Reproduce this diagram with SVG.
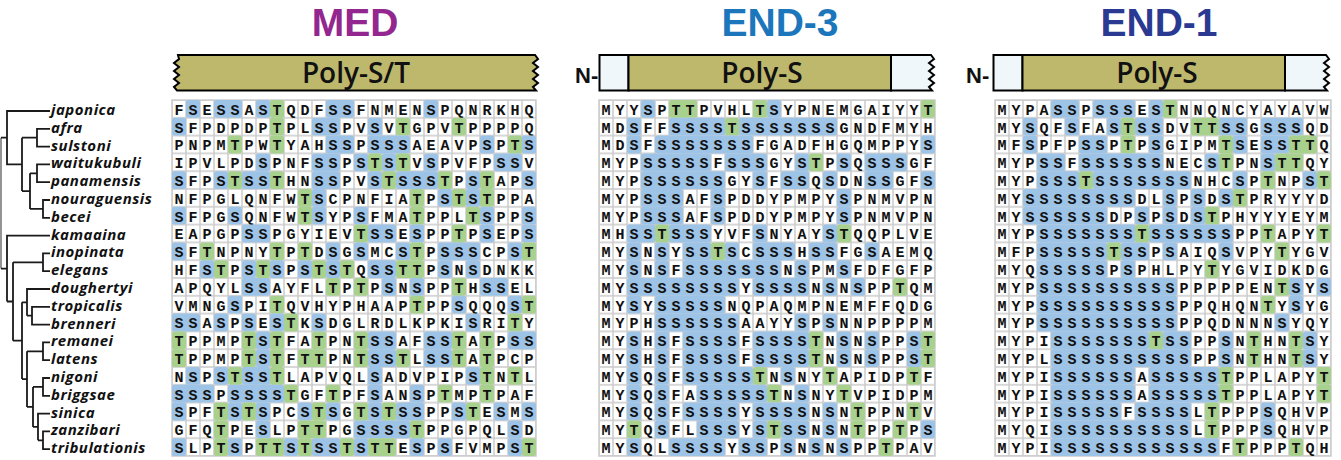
<svg xmlns="http://www.w3.org/2000/svg" width="1341" height="460" viewBox="0 0 1341 460">
<style>
.title{font-family:"Liberation Sans",Arial,sans-serif;font-weight:bold;font-size:39px;text-anchor:middle}
.dom{font-family:"Open Sans","Liberation Sans",sans-serif;font-weight:600;font-size:28px;text-anchor:middle;fill:#111}
.nt{font-family:"Liberation Sans",sans-serif;font-weight:bold;font-size:22px;fill:#111}
.bar{stroke:#000;stroke-width:2}
.ol{fill:#BEB86D}
.lt{fill:#EFF7FB}
.sp{font-family:"Open Sans","Liberation Sans",sans-serif;font-style:italic;font-weight:bold;font-size:15px;letter-spacing:0.5px;fill:#111}
.seq{font-family:"Liberation Mono",monospace;font-weight:bold;font-size:15px;letter-spacing:5px;fill:#111}
rect.b,rect.g{height:17.8px;rx:2.5px;ry:2.5px}
.b{fill:#9DC3E6}
.g{fill:#A9D18E}
.frame{fill:none;stroke:#CBCBCB;stroke-width:1.5}
</style>
<defs>
<pattern id="cell" width="14" height="17.8" patternUnits="userSpaceOnUse">
<rect width="14" height="17.8" fill="#CBCBCB"/>
<rect x="0.75" y="0.75" width="12.5" height="16.3" fill="#fff"/>
</pattern>
</defs>
<rect width="1341" height="460" fill="#fff"/>

<g id="titles">
<text class="title" x="355" y="36" fill="#93268F">MED</text>
<text class="title" x="780" y="36" fill="#1C76BC">END-3</text>
<text class="title" x="1159" y="36" fill="#2A3A92">END-1</text>
</g>

<g id="bar-med">
<path class="bar ol" d="M178,55 H535 L538,59 L533,63 L538,67 L533,71 L538,75 L533,79 L538,83 L533,87 L536,90.5 H177 L174,87 L179,83 L174,79 L179,75 L174,71 L179,67 L174,63 L179,59 Z"/>
<text class="dom" x="356" y="83">Poly-S/T</text>
</g>
<g id="bar-end3">
<text class="nt" x="575" y="83">N-</text>
<rect class="bar lt" x="599.5" y="55" width="29" height="35.5"/>
<rect class="bar ol" x="628.5" y="55" width="262.5" height="35.5"/>
<path class="bar lt" d="M891,55 H931 L934,59 L929,63 L934,67 L929,71 L934,75 L929,79 L934,83 L929,87 L932,90.5 H891 Z"/>
<text class="dom" x="762" y="83">Poly-S</text>
</g>
<g id="bar-end1">
<text class="nt" x="966" y="83">N-</text>
<rect class="bar lt" x="993.5" y="55" width="29" height="35.5"/>
<rect class="bar ol" x="1022.5" y="55" width="262.5" height="35.5"/>
<path class="bar lt" d="M1285,55 H1326 L1329,59 L1324,63 L1329,67 L1324,71 L1329,75 L1324,79 L1329,83 L1324,87 L1327,90.5 H1285 Z"/>
<text class="dom" x="1157" y="83">Poly-S</text>
</g>

<g id="tree-connectors" fill="none" stroke="#1a1a1a" stroke-width="1.8">
<path stroke="#888" d="M1,137.7V268.55"/>
<path d="M1,137.7H7 M1,268.55H7
M50,111H7V164.4H22 M22,137.7V191.1 M22,137.7H37 M50,128.8H37V146.6H50
M22,191.1H30 M30,173.3V208.9 M30,173.3H37 M50,164.4H37V182.2H50 M30,208.9H43 M50,200H43V217.8H50
M50,235.6H7V301.5 M7,301.5H13 M13,262.3V340.7 M13,262.3H43 M50,253.4H43V271.2H50
M13,340.7H22 M22,302.35V379.1 M22,302.35H27 M50,289H27V315.7 M27,315.7H32 M50,306.8H32V324.6H50
M22,379.1H27 M27,351.3V406.9 M27,351.3H43 M50,342.4H43V360.2H50
M27,406.9H33 M33,386.9V426.95 M33,386.9H43 M50,378H43V395.8H50
M33,426.95H38 M50,413.6H38V440.3 M38,440.3H43 M50,431.4H43V449.2H50"/>
</g>

<g id="species">
<text class="sp" x="51" y="115">japonica</text>
<text class="sp" x="51" y="132.8">afra</text>
<text class="sp" x="51" y="150.6">sulstoni</text>
<text class="sp" x="51" y="168.4">waitukubuli</text>
<text class="sp" x="51" y="186.2">panamensis</text>
<text class="sp" x="51" y="204">nouraguensis</text>
<text class="sp" x="51" y="221.8">becei</text>
<text class="sp" x="51" y="239.6">kamaaina</text>
<text class="sp" x="51" y="257.4">inopinata</text>
<text class="sp" x="51" y="275.2">elegans</text>
<text class="sp" x="51" y="293">doughertyi</text>
<text class="sp" x="51" y="310.8">tropicalis</text>
<text class="sp" x="51" y="328.6">brenneri</text>
<text class="sp" x="51" y="346.4">remanei</text>
<text class="sp" x="51" y="364.2">latens</text>
<text class="sp" x="51" y="382">nigoni</text>
<text class="sp" x="51" y="399.8">briggsae</text>
<text class="sp" x="51" y="417.6">sinica</text>
<text class="sp" x="51" y="435.4">zanzibari</text>
<text class="sp" x="51" y="453.2">tribulationis</text>
</g>

<g id="panel-med" transform="translate(172,100)">
<rect width="364" height="356" fill="url(#cell)"/>
<rect class="frame" width="364" height="356"/>
<g><rect class="b" x="14" width="14"/><rect class="b" x="42" width="28"/><rect class="b" x="84" width="14"/><rect class="b" x="154" width="28"/><rect class="b" x="252" width="14"/><rect class="g" x="98" width="14"/><text class="seq" x="2.5" y="14.8">FSESSASTQDFSSFNMENSPQNRKHQ</text></g>
<g transform="translate(0,17.8)"><rect class="b" x="0" width="14"/><rect class="b" x="140" width="28"/><rect class="b" x="196" width="14"/><rect class="g" x="98" width="14"/><rect class="g" x="224" width="14"/><rect class="g" x="280" width="14"/><text class="seq" x="2.5" y="14.8">SFPDPDPTPLSSPVSVTGPVTPPPPQ</text></g>
<g transform="translate(0,35.6)"><rect class="b" x="154" width="28"/><rect class="b" x="196" width="42"/><rect class="b" x="308" width="14"/><rect class="b" x="350" width="14"/><rect class="g" x="56" width="14"/><rect class="g" x="98" width="14"/><rect class="g" x="336" width="14"/><text class="seq" x="2.5" y="14.8">PNPMTPWTYAHSSPSSSAEAVPSPTS</text></g>
<g transform="translate(0,53.4)"><rect class="b" x="84" width="14"/><rect class="b" x="140" width="28"/><rect class="b" x="182" width="14"/><rect class="b" x="210" width="14"/><rect class="b" x="252" width="14"/><rect class="b" x="322" width="28"/><rect class="g" x="196" width="14"/><rect class="g" x="224" width="14"/><text class="seq" x="2.5" y="14.8">IPVLPDSPNFSSPSTSTVSPVFPSSV</text></g>
<g transform="translate(0,71.2)"><rect class="b" x="0" width="14"/><rect class="b" x="42" width="14"/><rect class="b" x="70" width="28"/><rect class="b" x="140" width="28"/><rect class="b" x="196" width="14"/><rect class="b" x="224" width="42"/><rect class="b" x="294" width="14"/><rect class="b" x="350" width="14"/><rect class="g" x="56" width="14"/><rect class="g" x="98" width="14"/><rect class="g" x="210" width="14"/><rect class="g" x="266" width="14"/><rect class="g" x="308" width="14"/><text class="seq" x="2.5" y="14.8">SFPSTSSTHNSSPVSTSSSTPSTAPS</text></g>
<g transform="translate(0,89)"><rect class="b" x="140" width="14"/><rect class="b" x="266" width="14"/><rect class="b" x="294" width="14"/><rect class="g" x="126" width="14"/><rect class="g" x="238" width="14"/><rect class="g" x="280" width="14"/><rect class="g" x="308" width="14"/><text class="seq" x="2.5" y="14.8">NFPGLQNFWTSCPNFIATPSTSTPPA</text></g>
<g transform="translate(0,106.8)"><rect class="b" x="0" width="14"/><rect class="b" x="56" width="14"/><rect class="b" x="140" width="14"/><rect class="b" x="182" width="14"/><rect class="b" x="308" width="14"/><rect class="b" x="350" width="14"/><rect class="g" x="126" width="14"/><rect class="g" x="238" width="14"/><rect class="g" x="294" width="14"/><text class="seq" x="2.5" y="14.8">SFPGSQNFWTSYPSFMATPPLTSPPS</text></g>
<g transform="translate(0,124.6)"><rect class="b" x="70" width="28"/><rect class="b" x="196" width="28"/><rect class="b" x="238" width="14"/><rect class="b" x="308" width="14"/><rect class="b" x="350" width="14"/><rect class="g" x="182" width="14"/><rect class="g" x="280" width="14"/><text class="seq" x="2.5" y="14.8">EAPGPSSPGYIEVTSSESPPTPSEPS</text></g>
<g transform="translate(0,142.4)"><rect class="b" x="0" width="14"/><rect class="b" x="154" width="14"/><rect class="b" x="182" width="14"/><rect class="b" x="224" width="14"/><rect class="b" x="266" width="42"/><rect class="b" x="336" width="14"/><rect class="g" x="28" width="14"/><rect class="g" x="98" width="14"/><rect class="g" x="126" width="14"/><rect class="g" x="238" width="14"/><rect class="g" x="350" width="14"/><text class="seq" x="2.5" y="14.8">SFTNPNYTPTDSGSMCSTPSSSCPST</text></g>
<g transform="translate(0,160.2)"><rect class="b" x="28" width="14"/><rect class="b" x="70" width="14"/><rect class="b" x="98" width="14"/><rect class="b" x="126" width="14"/><rect class="b" x="154" width="14"/><rect class="b" x="196" width="28"/><rect class="b" x="266" width="14"/><rect class="b" x="294" width="14"/><rect class="g" x="42" width="14"/><rect class="g" x="84" width="14"/><rect class="g" x="140" width="14"/><rect class="g" x="168" width="14"/><rect class="g" x="224" width="28"/><text class="seq" x="2.5" y="14.8">HFSTPSTSPSTSTQSSTTPSNSDNKK</text></g>
<g transform="translate(0,178)"><rect class="b" x="70" width="28"/><rect class="b" x="210" width="14"/><rect class="b" x="238" width="14"/><rect class="b" x="308" width="28"/><rect class="g" x="154" width="14"/><rect class="g" x="182" width="14"/><rect class="g" x="280" width="14"/><text class="seq" x="2.5" y="14.8">APQYLSSAYFLTPTPSNSPPTHSSEL</text></g>
<g transform="translate(0,195.8)"><rect class="b" x="56" width="14"/><rect class="b" x="280" width="14"/><rect class="b" x="336" width="14"/><rect class="g" x="98" width="14"/><rect class="g" x="238" width="14"/><rect class="g" x="350" width="14"/><text class="seq" x="2.5" y="14.8">VMNGSPITQVHYPHAAPTPPSQQQST</text></g>
<g transform="translate(0,213.6)"><rect class="b" x="0" width="28"/><rect class="b" x="42" width="14"/><rect class="b" x="70" width="14"/><rect class="b" x="98" width="14"/><rect class="b" x="140" width="14"/><rect class="b" x="294" width="14"/><rect class="g" x="112" width="14"/><rect class="g" x="336" width="14"/><text class="seq" x="2.5" y="14.8">SSASPSESTKSDGLRDLKPKISRITY</text></g>
<g transform="translate(0,231.4)"><rect class="b" x="84" width="14"/><rect class="b" x="196" width="28"/><rect class="b" x="252" width="28"/><rect class="b" x="336" width="28"/><rect class="g" x="0" width="14"/><rect class="g" x="70" width="14"/><rect class="g" x="98" width="14"/><rect class="g" x="140" width="14"/><rect class="g" x="182" width="14"/><rect class="g" x="280" width="14"/><rect class="g" x="308" width="14"/><text class="seq" x="2.5" y="14.8">TPPMPTSTFATPNTSSAFSSTATPSS</text></g>
<g transform="translate(0,249.2)"><rect class="b" x="84" width="14"/><rect class="b" x="196" width="28"/><rect class="b" x="252" width="28"/><rect class="g" x="0" width="14"/><rect class="g" x="70" width="14"/><rect class="g" x="98" width="14"/><rect class="g" x="126" width="28"/><rect class="g" x="182" width="14"/><rect class="g" x="224" width="14"/><rect class="g" x="280" width="14"/><rect class="g" x="308" width="14"/><text class="seq" x="2.5" y="14.8">TPPMPTSTFTTPNTSSTLSSTATPCP</text></g>
<g transform="translate(0,267)"><rect class="b" x="14" width="14"/><rect class="b" x="42" width="14"/><rect class="b" x="70" width="28"/><rect class="b" x="196" width="14"/><rect class="b" x="294" width="14"/><rect class="g" x="56" width="14"/><rect class="g" x="98" width="14"/><rect class="g" x="308" width="14"/><rect class="g" x="336" width="14"/><text class="seq" x="2.5" y="14.8">NSPSTSSTLAPVQLSADVPIPSTNTL</text></g>
<g transform="translate(0,284.8)"><rect class="b" x="0" width="42"/><rect class="b" x="56" width="56"/><rect class="b" x="196" width="14"/><rect class="b" x="238" width="14"/><rect class="g" x="112" width="14"/><rect class="g" x="154" width="14"/><rect class="g" x="266" width="14"/><rect class="g" x="308" width="14"/><text class="seq" x="2.5" y="14.8">SSSPSSSSTGFTPFSANSPTMPTPAF</text></g>
<g transform="translate(0,302.6)"><rect class="b" x="0" width="14"/><rect class="b" x="56" width="14"/><rect class="b" x="84" width="14"/><rect class="b" x="126" width="14"/><rect class="b" x="154" width="14"/><rect class="b" x="196" width="14"/><rect class="b" x="224" width="28"/><rect class="b" x="280" width="14"/><rect class="b" x="322" width="14"/><rect class="b" x="350" width="14"/><rect class="g" x="42" width="14"/><rect class="g" x="70" width="14"/><rect class="g" x="140" width="14"/><rect class="g" x="182" width="14"/><rect class="g" x="210" width="14"/><rect class="g" x="294" width="14"/><text class="seq" x="2.5" y="14.8">SPFTSTSPCSTSGTSTSSPPSTESMS</text></g>
<g transform="translate(0,320.4)"><rect class="b" x="84" width="14"/><rect class="b" x="182" width="56"/><rect class="b" x="336" width="14"/><rect class="g" x="42" width="14"/><rect class="g" x="126" width="28"/><rect class="g" x="238" width="14"/><text class="seq" x="2.5" y="14.8">GFQTPESLPTTPGSSSSTPPGPQLSD</text></g>
<g transform="translate(0,338.2)"><rect class="b" x="0" width="14"/><rect class="b" x="56" width="14"/><rect class="b" x="112" width="14"/><rect class="b" x="140" width="28"/><rect class="b" x="182" width="14"/><rect class="b" x="238" width="14"/><rect class="b" x="266" width="14"/><rect class="b" x="336" width="14"/><rect class="g" x="42" width="14"/><rect class="g" x="84" width="28"/><rect class="g" x="126" width="14"/><rect class="g" x="168" width="14"/><rect class="g" x="196" width="28"/><rect class="g" x="350" width="14"/><text class="seq" x="2.5" y="14.8">SLPTSPTTSTSSTSTTESPSFVMPST</text></g>
</g>

<g id="panel-end3" transform="translate(599,100)">
<rect width="336" height="356" fill="url(#cell)"/>
<rect class="frame" width="336" height="356"/>
<g><rect class="b" x="42" width="14"/><rect class="b" x="168" width="14"/><rect class="g" x="70" width="28"/><rect class="g" x="154" width="14"/><rect class="g" x="322" width="14"/><text class="seq" x="2.5" y="14.8">MYYSPTTPVHLTSYPNEMGAIYYT</text></g>
<g transform="translate(0,17.8)"><rect class="b" x="28" width="14"/><rect class="b" x="70" width="56"/><rect class="b" x="140" width="98"/><rect class="g" x="126" width="14"/><text class="seq" x="2.5" y="14.8">MDSFFSSSSTSSSSSSSGNDFMYH</text></g>
<g transform="translate(0,35.6)"><rect class="b" x="28" width="14"/><rect class="b" x="56" width="98"/><rect class="b" x="322" width="14"/><text class="seq" x="2.5" y="14.8">MDSFSSSSSSSFGADFHGQMPPYS</text></g>
<g transform="translate(0,53.4)"><rect class="b" x="42" width="70"/><rect class="b" x="126" width="42"/><rect class="b" x="196" width="14"/><rect class="b" x="238" width="14"/><rect class="b" x="266" width="42"/><rect class="g" x="210" width="14"/><text class="seq" x="2.5" y="14.8">MYPSSSSSFSSSGYSTPSQSSSGF</text></g>
<g transform="translate(0,71.2)"><rect class="b" x="42" width="84"/><rect class="b" x="154" width="14"/><rect class="b" x="182" width="28"/><rect class="b" x="224" width="14"/><rect class="b" x="266" width="28"/><rect class="b" x="322" width="14"/><text class="seq" x="2.5" y="14.8">MYPSSSSSSGYSFSSQSDNSSGFS</text></g>
<g transform="translate(0,89)"><rect class="b" x="42" width="42"/><rect class="b" x="112" width="14"/><rect class="b" x="238" width="14"/><text class="seq" x="2.5" y="14.8">MYPSSSAFSPDDYPMPYSPNMVPN</text></g>
<g transform="translate(0,106.8)"><rect class="b" x="42" width="42"/><rect class="b" x="112" width="14"/><rect class="b" x="238" width="14"/><text class="seq" x="2.5" y="14.8">MYPSSSAFSPDDYPMPYSPNMVPN</text></g>
<g transform="translate(0,124.6)"><rect class="b" x="28" width="28"/><rect class="b" x="70" width="42"/><rect class="b" x="154" width="14"/><rect class="b" x="224" width="14"/><rect class="g" x="56" width="14"/><rect class="g" x="238" width="14"/><text class="seq" x="2.5" y="14.8">MHSSTSSSYVFSNYAYSTQQPLVE</text></g>
<g transform="translate(0,142.4)"><rect class="b" x="28" width="14"/><rect class="b" x="56" width="14"/><rect class="b" x="84" width="28"/><rect class="b" x="126" width="14"/><rect class="b" x="154" width="42"/><rect class="b" x="210" width="28"/><rect class="b" x="266" width="14"/><rect class="g" x="112" width="14"/><text class="seq" x="2.5" y="14.8">MYSNSYSSTSCSSSHSSFGSAEMQ</text></g>
<g transform="translate(0,160.2)"><rect class="b" x="28" width="14"/><rect class="b" x="56" width="14"/><rect class="b" x="84" width="98"/><rect class="b" x="196" width="14"/><rect class="b" x="238" width="14"/><text class="seq" x="2.5" y="14.8">MYSNSFSSSSSSSNSPMSFDFGFP</text></g>
<g transform="translate(0,178)"><rect class="b" x="28" width="112"/><rect class="b" x="154" width="56"/><rect class="b" x="224" width="14"/><rect class="b" x="252" width="14"/><rect class="g" x="294" width="14"/><text class="seq" x="2.5" y="14.8">MYSSSSSSSSYSSSSNSNSPPTQM</text></g>
<g transform="translate(0,195.8)"><rect class="b" x="28" width="14"/><rect class="b" x="56" width="70"/><text class="seq" x="2.5" y="14.8">MYSYSSSSSNQPAQMPNEMFFQDG</text></g>
<g transform="translate(0,213.6)"><rect class="b" x="56" width="84"/><rect class="b" x="196" width="14"/><rect class="b" x="224" width="14"/><text class="seq" x="2.5" y="14.8">MYPHSSSSSSAAYYSPSNNPPPPM</text></g>
<g transform="translate(0,231.4)"><rect class="b" x="28" width="14"/><rect class="b" x="56" width="14"/><rect class="b" x="84" width="56"/><rect class="b" x="154" width="56"/><rect class="b" x="238" width="14"/><rect class="b" x="266" width="14"/><rect class="b" x="308" width="14"/><rect class="g" x="210" width="14"/><rect class="g" x="322" width="14"/><text class="seq" x="2.5" y="14.8">MYSHSFSSSSFSSSSTNSNSPPST</text></g>
<g transform="translate(0,249.2)"><rect class="b" x="28" width="14"/><rect class="b" x="56" width="14"/><rect class="b" x="84" width="56"/><rect class="b" x="154" width="56"/><rect class="b" x="238" width="14"/><rect class="b" x="266" width="14"/><rect class="b" x="308" width="14"/><rect class="g" x="210" width="14"/><rect class="g" x="322" width="14"/><text class="seq" x="2.5" y="14.8">MYSHSFSSSSFSSSSTNSNSPPST</text></g>
<g transform="translate(0,267)"><rect class="b" x="28" width="14"/><rect class="b" x="56" width="14"/><rect class="b" x="84" width="70"/><rect class="b" x="182" width="14"/><rect class="g" x="154" width="14"/><rect class="g" x="224" width="14"/><rect class="g" x="308" width="14"/><text class="seq" x="2.5" y="14.8">MYSQSFSSSSSTNSNYTAPIDPTF</text></g>
<g transform="translate(0,284.8)"><rect class="b" x="28" width="14"/><rect class="b" x="56" width="14"/><rect class="b" x="98" width="70"/><rect class="b" x="196" width="14"/><rect class="g" x="168" width="14"/><rect class="g" x="238" width="14"/><text class="seq" x="2.5" y="14.8">MYSQSFASSSSSTNSNYTVPIDPM</text></g>
<g transform="translate(0,302.6)"><rect class="b" x="28" width="14"/><rect class="b" x="56" width="14"/><rect class="b" x="84" width="56"/><rect class="b" x="154" width="56"/><rect class="b" x="224" width="14"/><rect class="g" x="252" width="14"/><rect class="g" x="308" width="14"/><text class="seq" x="2.5" y="14.8">MYSQSFSSSSYSSSSNSNTPPNTV</text></g>
<g transform="translate(0,320.4)"><rect class="b" x="56" width="14"/><rect class="b" x="98" width="42"/><rect class="b" x="154" width="14"/><rect class="b" x="182" width="28"/><rect class="b" x="224" width="14"/><rect class="b" x="322" width="14"/><rect class="g" x="28" width="14"/><rect class="g" x="168" width="14"/><rect class="g" x="252" width="14"/><rect class="g" x="294" width="14"/><text class="seq" x="2.5" y="14.8">MYTQSFLSSSYSTSSNSNTPPTPS</text></g>
<g transform="translate(0,338.2)"><rect class="b" x="28" width="14"/><rect class="b" x="70" width="56"/><rect class="b" x="140" width="28"/><rect class="b" x="182" width="14"/><rect class="b" x="210" width="14"/><rect class="b" x="238" width="14"/><rect class="g" x="280" width="14"/><text class="seq" x="2.5" y="14.8">MYSQLSSSSYSSPSNSNSPPTPAV</text></g>
</g>

<g id="panel-end1" transform="translate(995,100)">
<rect width="336" height="356" fill="url(#cell)"/>
<rect class="frame" width="336" height="356"/>
<g><rect class="b" x="56" width="28"/><rect class="b" x="98" width="42"/><rect class="b" x="154" width="14"/><rect class="g" x="168" width="14"/><text class="seq" x="2.5" y="14.8">MYPASSPSSSESTNNQNCYAYAVW</text></g>
<g transform="translate(0,17.8)"><rect class="b" x="28" width="14"/><rect class="b" x="70" width="14"/><rect class="b" x="112" width="14"/><rect class="b" x="140" width="28"/><rect class="b" x="224" width="28"/><rect class="b" x="266" width="42"/><rect class="g" x="126" width="14"/><rect class="g" x="196" width="28"/><text class="seq" x="2.5" y="14.8">MYSQFSFASTSSDVTTSSGSSSQD</text></g>
<g transform="translate(0,35.6)"><rect class="b" x="28" width="14"/><rect class="b" x="84" width="28"/><rect class="b" x="154" width="14"/><rect class="b" x="238" width="14"/><rect class="b" x="266" width="28"/><rect class="g" x="126" width="14"/><rect class="g" x="224" width="14"/><rect class="g" x="294" width="28"/><text class="seq" x="2.5" y="14.8">MFSPFPSSPTPSGIPMTSESSTTQ</text></g>
<g transform="translate(0,53.4)"><rect class="b" x="42" width="28"/><rect class="b" x="84" width="84"/><rect class="b" x="210" width="14"/><rect class="b" x="266" width="14"/><rect class="g" x="224" width="14"/><rect class="g" x="280" width="28"/><text class="seq" x="2.5" y="14.8">MYPSSFSSSSSSNECSTPNSTTQY</text></g>
<g transform="translate(0,71.2)"><rect class="b" x="42" width="42"/><rect class="b" x="98" width="98"/><rect class="b" x="238" width="14"/><rect class="b" x="308" width="14"/><rect class="g" x="84" width="14"/><rect class="g" x="266" width="14"/><rect class="g" x="322" width="14"/><text class="seq" x="2.5" y="14.8">MYPSSSTSSSSSSSNHCSPTNPST</text></g>
<g transform="translate(0,89)"><rect class="b" x="28" width="112"/><rect class="b" x="168" width="14"/><rect class="b" x="196" width="14"/><rect class="b" x="224" width="14"/><rect class="g" x="238" width="14"/><text class="seq" x="2.5" y="14.8">MYSSSSSSSSDLSPSDSTPRYYYD</text></g>
<g transform="translate(0,106.8)"><rect class="b" x="28" width="84"/><rect class="b" x="140" width="14"/><rect class="b" x="168" width="14"/><rect class="b" x="196" width="14"/><rect class="g" x="210" width="14"/><text class="seq" x="2.5" y="14.8">MYSSSSSSDPSPSDSTPHYYYEYM</text></g>
<g transform="translate(0,124.6)"><rect class="b" x="42" width="98"/><rect class="b" x="154" width="84"/><rect class="g" x="140" width="14"/><rect class="g" x="266" width="14"/><rect class="g" x="322" width="14"/><text class="seq" x="2.5" y="14.8">MYPSSSSSSSTSSSSSSPPTAPYT</text></g>
<g transform="translate(0,142.4)"><rect class="b" x="42" width="70"/><rect class="b" x="126" width="28"/><rect class="b" x="168" width="14"/><rect class="b" x="224" width="14"/><rect class="g" x="112" width="14"/><rect class="g" x="280" width="14"/><text class="seq" x="2.5" y="14.8">MFPSSSSSTSSPSAIQSVPYTYGV</text></g>
<g transform="translate(0,160.2)"><rect class="b" x="42" width="70"/><rect class="b" x="126" width="14"/><rect class="g" x="210" width="14"/><text class="seq" x="2.5" y="14.8">MYQSSSSSPSPHLPYTYGVIDKDG</text></g>
<g transform="translate(0,178)"><rect class="b" x="42" width="140"/><rect class="b" x="294" width="14"/><rect class="b" x="322" width="14"/><rect class="g" x="280" width="14"/><text class="seq" x="2.5" y="14.8">MYPSSSSSSSSSSPPPPPENTSYS</text></g>
<g transform="translate(0,195.8)"><rect class="b" x="42" width="140"/><rect class="b" x="294" width="14"/><rect class="g" x="266" width="14"/><text class="seq" x="2.5" y="14.8">MYPSSSSSSSSSSPPQHQNTYSYG</text></g>
<g transform="translate(0,213.6)"><rect class="b" x="42" width="140"/><rect class="b" x="280" width="14"/><text class="seq" x="2.5" y="14.8">MYPSSSSSSSSSSPPQDNNNSYQY</text></g>
<g transform="translate(0,231.4)"><rect class="b" x="56" width="98"/><rect class="b" x="168" width="28"/><rect class="b" x="224" width="14"/><rect class="b" x="308" width="14"/><rect class="g" x="154" width="14"/><rect class="g" x="252" width="14"/><rect class="g" x="294" width="14"/><text class="seq" x="2.5" y="14.8">MYPISSSSSSSTSSPPSNTHNTSY</text></g>
<g transform="translate(0,249.2)"><rect class="b" x="56" width="140"/><rect class="b" x="224" width="14"/><rect class="b" x="308" width="14"/><rect class="g" x="252" width="14"/><rect class="g" x="294" width="14"/><text class="seq" x="2.5" y="14.8">MYPLSSSSSSSSSSPPSNTHNTSY</text></g>
<g transform="translate(0,267)"><rect class="b" x="56" width="84"/><rect class="b" x="154" width="70"/><rect class="g" x="224" width="14"/><rect class="g" x="322" width="14"/><text class="seq" x="2.5" y="14.8">MYPISSSSSSASSSSSTPPLAPYT</text></g>
<g transform="translate(0,284.8)"><rect class="b" x="56" width="84"/><rect class="b" x="154" width="70"/><rect class="g" x="224" width="14"/><rect class="g" x="322" width="14"/><text class="seq" x="2.5" y="14.8">MYPISSSSSSASSSSSTPPLAPYT</text></g>
<g transform="translate(0,302.6)"><rect class="b" x="56" width="70"/><rect class="b" x="140" width="56"/><rect class="b" x="266" width="14"/><rect class="g" x="210" width="14"/><text class="seq" x="2.5" y="14.8">MYPISSSSSFSSSSLTPPPSQHVP</text></g>
<g transform="translate(0,320.4)"><rect class="b" x="56" width="140"/><rect class="b" x="266" width="14"/><rect class="g" x="210" width="14"/><text class="seq" x="2.5" y="14.8">MYQISSSSSSSSSSLTPPPSQHVP</text></g>
<g transform="translate(0,338.2)"><rect class="b" x="56" width="168"/><rect class="g" x="238" width="14"/><rect class="g" x="294" width="14"/><text class="seq" x="2.5" y="14.8">MYPISSSSSSSSSSSSFTPPPTQH</text></g>
</g>
</svg>
